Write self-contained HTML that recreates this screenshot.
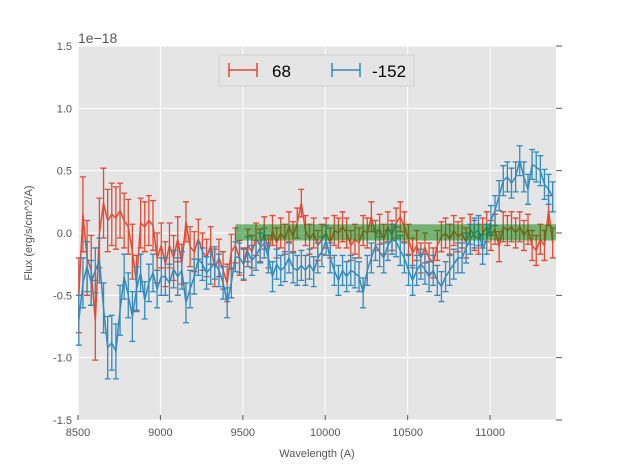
<!DOCTYPE html>
<html><head><meta charset="utf-8"><style>
body{margin:0;background:#fff;}
svg{display:block;font-family:"Liberation Sans",sans-serif;}
</style></head><body>
<svg id="chart" width="617" height="467">
<rect x="78" y="46" width="478" height="374" fill="#e5e5e5"/>
<g id="grid"></g><g id="marks"></g><g id="axes"></g>
<text x="78" y="43" font-size="14" fill="#555">1e−18</text>
<text x="317" y="457" text-anchor="middle" font-size="11" fill="#555">Wavelength (A)</text>
<text transform="translate(32,233) rotate(-90)" text-anchor="middle" font-size="11" fill="#555">Flux (erg/s/cm^2/A)</text>
<g>
<rect x="219" y="55" width="195" height="31" fill="#e5e5e5" stroke="#ccc" stroke-width="0.8"/>
<g>
<line x1="229" y1="70" x2="257" y2="70" stroke="#e24a33" stroke-width="1.5"/><line x1="229" y1="63" x2="229" y2="77" stroke="#e24a33" stroke-width="1.5"/><line x1="257" y1="63" x2="257" y2="77" stroke="#e24a33" stroke-width="1.5"/>
<text x="272" y="77" font-size="17" fill="#000">68</text></g>
<g>
<line x1="332" y1="70" x2="360" y2="70" stroke="#348abd" stroke-width="1.5"/><line x1="332" y1="63" x2="332" y2="77" stroke="#348abd" stroke-width="1.5"/><line x1="360" y1="63" x2="360" y2="77" stroke="#348abd" stroke-width="1.5"/>
<text x="372" y="77" font-size="17" fill="#000">-152</text></g>
</g>
</svg>
<script>
const xStart = 8505, xStep = 25;
const red = [-0.5,0.15,-0.2,-0.3,-0.7,0.0,0.24,0.1,0.15,0.12,0.18,0.1,0.05,-0.15,-0.4,0.08,0.05,0.1,0.06,-0.2,-0.1,-0.25,-0.1,-0.2,-0.05,-0.25,0.09,-0.11,-0.15,-0.05,-0.15,-0.2,-0.1,-0.28,-0.2,-0.3,-0.4,-0.15,-0.1,-0.2,-0.25,-0.1,-0.15,-0.05,-0.1,0.0,-0.15,0.02,-0.08,0.0,-0.05,0.05,-0.03,0.08,0.24,0.02,-0.05,0.0,-0.1,-0.05,0.0,-0.08,0.02,0.0,0.05,0.0,-0.1,-0.05,-0.08,0.02,0.0,0.13,-0.02,0.03,-0.05,0.05,-0.02,0.08,0.13,0.05,-0.05,-0.16,-0.1,-0.2,-0.12,-0.2,-0.24,-0.1,-0.03,0.0,-0.05,0.02,-0.03,0.0,-0.08,0.03,-0.02,-0.05,0.0,0.05,-0.02,0.03,-0.11,0.05,0.02,0.05,0.0,0.05,-0.02,0.03,-0.1,-0.14,-0.05,-0.1,0.18,-0.08];
const blue = [-0.7,-0.4,-0.27,-0.4,-0.3,-0.22,-0.6,-0.92,-0.88,-0.95,-0.62,-0.35,-0.5,-0.67,-0.45,-0.32,-0.54,-0.4,-0.32,-0.45,-0.35,-0.35,-0.4,-0.29,-0.35,-0.3,-0.56,-0.45,-0.35,-0.21,-0.25,-0.32,-0.28,-0.24,-0.3,-0.4,-0.56,-0.4,-0.19,-0.2,-0.25,-0.15,-0.22,-0.18,-0.12,-0.08,-0.2,-0.35,-0.25,-0.3,-0.27,-0.2,-0.28,-0.3,-0.26,-0.3,-0.25,-0.31,-0.2,-0.15,-0.06,-0.2,-0.3,-0.38,-0.3,-0.35,-0.3,-0.32,-0.35,-0.48,-0.3,-0.2,-0.1,-0.15,-0.2,-0.1,-0.05,-0.07,-0.14,-0.2,-0.3,-0.38,-0.3,-0.25,-0.29,-0.35,-0.3,-0.38,-0.43,-0.35,-0.3,-0.25,-0.2,-0.2,-0.12,-0.05,0.0,0.02,-0.13,-0.05,0.1,0.18,0.3,0.42,0.45,0.4,0.45,0.58,0.45,0.35,0.55,0.53,0.5,0.39,0.35,0.29];
const redErr = [0.3,0.3,0.3,0.28,0.32,0.28,0.28,0.25,0.25,0.25,0.22,0.22,0.22,0.22,0.22,0.2,0.2,0.2,0.2,0.2,0.18,0.18,0.18,0.18,0.18,0.16,0.16,0.16,0.16,0.16,0.15,0.15,0.15,0.15,0.15,0.15,0.15,0.14,0.14,0.14,0.13,0.13,0.13,0.13,0.13,0.13,0.13,0.12,0.12,0.12,0.12,0.12,0.12,0.12,0.11,0.12,0.12,0.12,0.12,0.12,0.12,0.12,0.12,0.12,0.12,0.12,0.12,0.12,0.12,0.12,0.12,0.12,0.12,0.12,0.12,0.12,0.12,0.12,0.12,0.12,0.12,0.12,0.12,0.12,0.12,0.12,0.12,0.12,0.12,0.12,0.12,0.12,0.12,0.12,0.12,0.12,0.12,0.12,0.12,0.12,0.12,0.12,0.12,0.12,0.12,0.12,0.12,0.12,0.12,0.12,0.12,0.12,0.12,0.12,0.12,0.12];
const blueErr = [0.2,0.2,0.2,0.18,0.18,0.18,0.2,0.25,0.22,0.22,0.2,0.18,0.18,0.2,0.18,0.15,0.15,0.15,0.15,0.15,0.15,0.15,0.15,0.15,0.15,0.15,0.16,0.15,0.14,0.13,0.13,0.13,0.13,0.13,0.13,0.13,0.12,0.12,0.12,0.12,0.12,0.12,0.12,0.12,0.12,0.12,0.12,0.12,0.12,0.12,0.12,0.12,0.12,0.12,0.12,0.12,0.12,0.12,0.12,0.12,0.12,0.12,0.12,0.12,0.12,0.12,0.12,0.12,0.12,0.12,0.12,0.12,0.12,0.12,0.12,0.12,0.12,0.12,0.12,0.12,0.12,0.12,0.12,0.12,0.12,0.12,0.12,0.12,0.12,0.12,0.12,0.12,0.12,0.12,0.12,0.12,0.12,0.12,0.12,0.12,0.12,0.12,0.12,0.12,0.12,0.12,0.12,0.12,0.12,0.12,0.12,0.12,0.12,0.12,0.12,0.12];
const xTicks = [8500,9000,9500,10000,10500,11000];
const yTicks = [-1.5,-1.0,-0.5,0.0,0.5,1.0,1.5];
const bandRange = [9455, 11400, -0.06, 0.07];

const NS = "http://www.w3.org/2000/svg";
const X0=78, X1=556, Y0=420, Y1=46, XMIN=8500, XMAX=11400, YMIN=-1.5, YMAX=1.5;
const sx = v => X0 + (v - XMIN) / (XMAX - XMIN) * (X1 - X0);
const sy = v => Y0 - (v - YMIN) / (YMAX - YMIN) * (Y0 - Y1);
function mk(tag, attrs, parent){ const e=document.createElementNS(NS,tag); for(const k in attrs) e.setAttribute(k,attrs[k]); parent.appendChild(e); return e; }
const grid=document.getElementById('grid'), marks=document.getElementById('marks'), axes=document.getElementById('axes');

xTicks.forEach(t=>{
  const g=mk('line',{x1:sx(t),x2:sx(t),y1:Y1,y2:Y0,stroke:'#fff','stroke-width':1},grid);
  
  
  const tk=mk('line',{x1:sx(t),x2:sx(t),y1:Y0,y2:Y0-5,stroke:'#555'},axes);
  
  
  const tx=mk('text',{x:sx(t),y:Y0+16,'text-anchor':'middle','font-size':11,fill:'#555'},axes);
  tx.textContent=t;
  
  
});
yTicks.forEach(t=>{
  const g=mk('line',{x1:X0,x2:X1,y1:sy(t),y2:sy(t),stroke:'#fff','stroke-width':1},grid);
  
  
  const tk=mk('line',{x1:X1,x2:X1+6,y1:sy(t),y2:sy(t),stroke:'#555'},axes);
  
  
  const tx=mk('text',{x:X0-6,y:sy(t)+4,'text-anchor':'end','font-size':11,fill:'#555'},axes);
  tx.textContent=t.toFixed(1);
  
  
});

function series(vals, errs, color, name){
  const g=mk('g',{},marks);
  
  
  let d='';
  vals.forEach((v,i)=>{
    const w=xStart+i*xStep; if(w>XMAX) return;
    const x=sx(w), e=errs[i]||0.12;
    const eb=mk('path',{d:`M${x},${sy(v-e)}V${sy(v+e)}M${x-3},${sy(v-e)}H${x+3}M${x-3},${sy(v+e)}H${x+3}`,stroke:color,'stroke-width':1.3,fill:'none'},g);
    
    
    d+=(i?'L':'M')+x+','+sy(v);
  });
  const ln=mk('path',{d:d,stroke:color,'stroke-width':1.5,fill:'none'},g);
  
  
}
series(red, redErr, '#e24a33', 'series-68');
series(blue, blueErr, '#348abd', 'series-minus152');
const band=mk('rect',{x:sx(bandRange[0]),y:sy(bandRange[3]),width:sx(bandRange[1])-sx(bandRange[0]),height:sy(bandRange[2])-sy(bandRange[3]),fill:'#008000','fill-opacity':0.5},marks);


</script>
</body></html>
